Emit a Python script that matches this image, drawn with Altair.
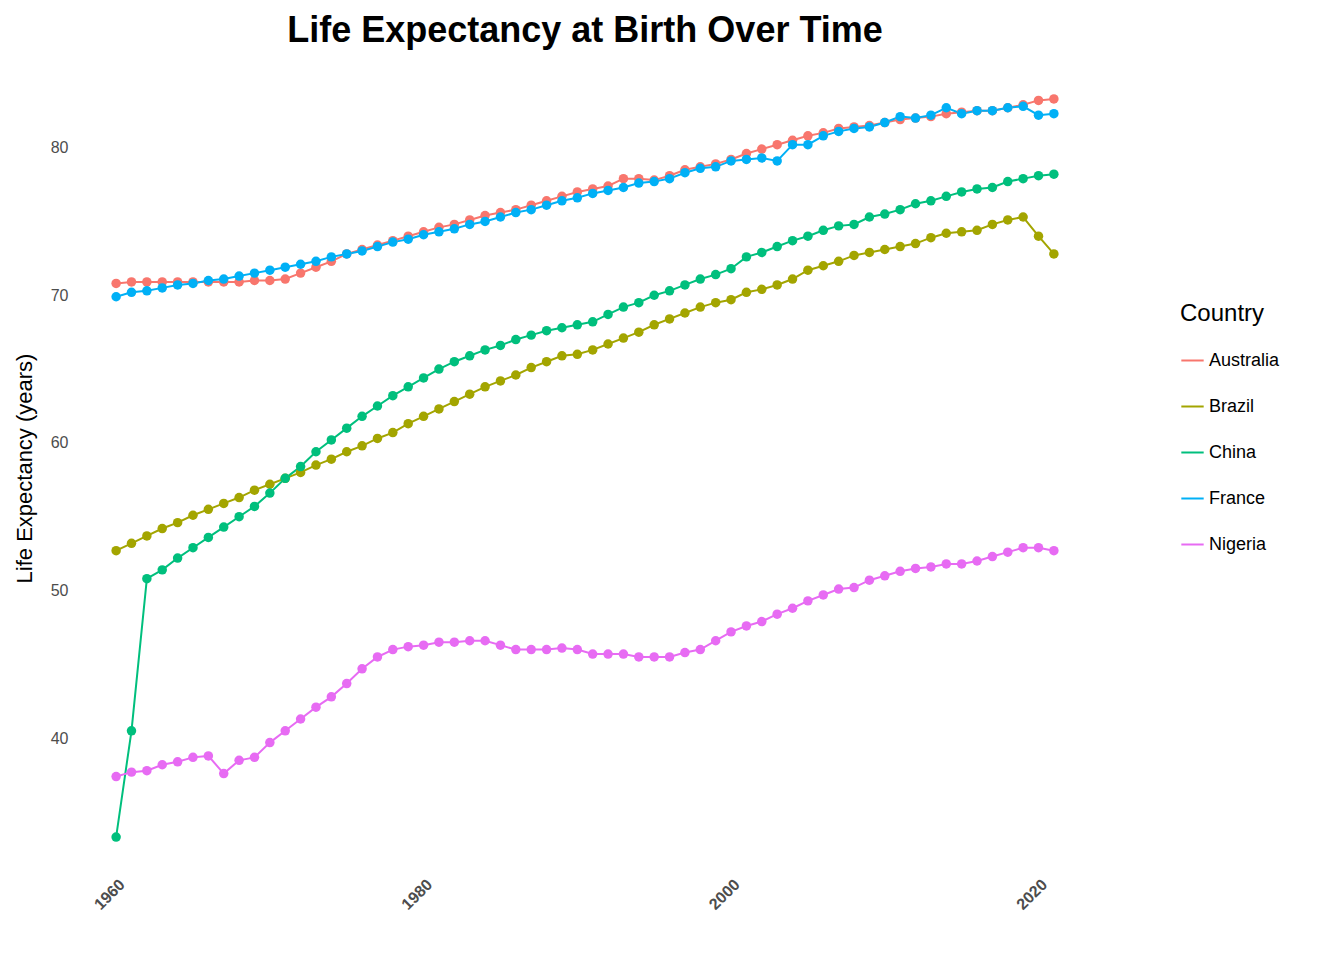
import pandas as pd
import altair as alt

years = list(range(1960, 2022))

australia = [70.8, 70.9, 70.9, 70.9, 70.9, 70.9, 70.9, 70.9, 70.9, 71.0, 71.0, 71.1, 71.5, 71.9, 72.3,
             72.8, 73.1, 73.4, 73.7, 74.0, 74.3, 74.6, 74.8, 75.1, 75.4, 75.6, 75.8, 76.1, 76.4, 76.7,
             77.0, 77.2, 77.4, 77.9, 77.9, 77.8, 78.1, 78.5, 78.7, 78.9, 79.2, 79.6, 79.9, 80.2, 80.5,
             80.8, 81.0, 81.3, 81.4, 81.5, 81.7, 81.9, 82.0, 82.1, 82.3, 82.4, 82.5, 82.5, 82.7, 82.9,
             83.2, 83.3]
brazil = [52.7, 53.2, 53.7, 54.2, 54.6, 55.1, 55.5, 55.9, 56.3, 56.8, 57.2, 57.6, 58.0, 58.5, 58.9,
          59.4, 59.8, 60.3, 60.7, 61.3, 61.8, 62.3, 62.8, 63.3, 63.8, 64.2, 64.6, 65.1, 65.5, 65.9,
          66.0, 66.3, 66.7, 67.1, 67.5, 68.0, 68.4, 68.8, 69.2, 69.5, 69.7, 70.2, 70.4, 70.7, 71.1,
          71.7, 72.0, 72.3, 72.7, 72.9, 73.1, 73.3, 73.5, 73.9, 74.2, 74.3, 74.4, 74.8, 75.1, 75.3,
          74.0, 72.8]
china = [33.3, 40.5, 50.8, 51.4, 52.2, 52.9, 53.6, 54.3, 55.0, 55.7, 56.6, 57.6, 58.4, 59.4, 60.2,
         61.0, 61.8, 62.5, 63.2, 63.8, 64.4, 65.0, 65.5, 65.9, 66.3, 66.6, 67.0, 67.3, 67.6, 67.8,
         68.0, 68.2, 68.7, 69.2, 69.5, 70.0, 70.3, 70.7, 71.1, 71.4, 71.8, 72.6, 72.9, 73.3, 73.7,
         74.0, 74.4, 74.7, 74.8, 75.3, 75.5, 75.8, 76.2, 76.4, 76.7, 77.0, 77.2, 77.3, 77.7, 77.9,
         78.1, 78.2]
france = [69.9, 70.2, 70.3, 70.5, 70.7, 70.8, 71.0, 71.1, 71.3, 71.5, 71.7, 71.9, 72.1, 72.3, 72.6,
          72.8, 73.0, 73.3, 73.6, 73.8, 74.1, 74.3, 74.5, 74.8, 75.0, 75.3, 75.6, 75.8, 76.1, 76.4,
          76.6, 76.9, 77.1, 77.3, 77.6, 77.7, 77.9, 78.3, 78.6, 78.7, 79.1, 79.2, 79.3, 79.1, 80.2,
          80.2, 80.8, 81.1, 81.3, 81.4, 81.7, 82.1, 82.0, 82.2, 82.7, 82.3, 82.5, 82.5, 82.7, 82.8,
          82.2, 82.3]
nigeria = [37.4, 37.7, 37.8, 38.2, 38.4, 38.7, 38.8, 37.6, 38.5, 38.7, 39.7, 40.5, 41.3, 42.1, 42.8,
           43.7, 44.7, 45.5, 46.0, 46.2, 46.3, 46.5, 46.5, 46.6, 46.6, 46.3, 46.0, 46.0, 46.0, 46.1,
           46.0, 45.7, 45.7, 45.7, 45.5, 45.5, 45.5, 45.8, 46.0, 46.6, 47.2, 47.6, 47.9, 48.4, 48.8,
           49.3, 49.7, 50.1, 50.2, 50.7, 51.0, 51.3, 51.5, 51.6, 51.8, 51.8, 52.0, 52.3, 52.6, 52.9,
           52.9, 52.7]

countries = ["Australia", "Brazil", "China", "France", "Nigeria"]
colors = ["#F8766D", "#A3A500", "#00BF7D", "#00B0F6", "#E76BF3"]

df = pd.concat(
    [pd.DataFrame({"year": years, "life": v, "Country": c})
     for c, v in zip(countries, [australia, brazil, china, france, nigeria])]
)

color = alt.Color("Country:N").scale(domain=countries, range=colors).legend(
    title="Country", titleFontSize=24, titleFontWeight="normal", titleColor="black",
    labelFontSize=18, labelColor="black", symbolType="stroke", symbolStrokeWidth=2,
    symbolSize=500, rowPadding=24, titlePadding=22, orient="none",
    legendX=1110, legendY=240,
)

base = alt.Chart(df).encode(
    x=alt.X("year:Q").scale(domain=[1957, 2024], nice=False, zero=False)
    .axis(values=[1960, 1980, 2000, 2020], format="d", labelAngle=-45, labelAlign="right",
          labelBaseline="top", labelFontSize=16, labelFontWeight="bold", labelColor="#4d4d4d",
          domain=False, ticks=False, grid=False).title(None),
    y=alt.Y("life:Q").scale(domain=[30.8, 85.8], nice=False, zero=False)
    .axis(values=[40, 50, 60, 70, 80], labelFontSize=16, labelColor="#4d4d4d",
          domain=False, ticks=False, grid=False, titleFontSize=22, titleFontWeight="normal",
          titleColor="black", titlePadding=14)
    .title("Life Expectancy (years)"),
    color=color,
)

lines = base.mark_line(strokeWidth=2)
points = base.mark_circle(size=90, opacity=1)

chart = (lines + points).properties(
    width=1030, height=812,
    title=alt.TitleParams("Life Expectancy at Birth Over Time", fontSize=36, fontWeight="bold",
                          anchor="middle", color="black", offset=12),
).configure(font="Liberation Sans").configure_view(stroke=None, strokeWidth=0)

chart.save("out.html", embed_options={"renderer": "svg", "actions": False})
